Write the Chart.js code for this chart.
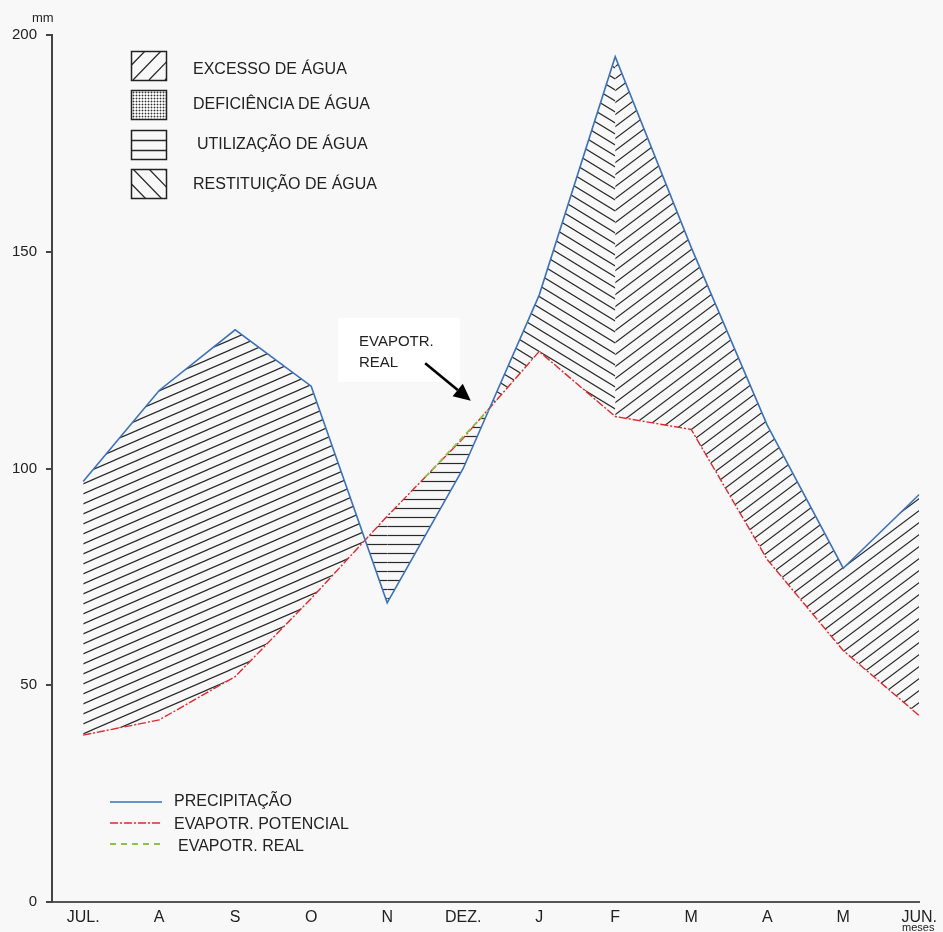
<!DOCTYPE html>
<html lang="pt">
<head>
  <meta charset="UTF-8" />
  <title>Balanço hídrico</title>
  <script src="https://cdn.jsdelivr.net/npm/chart.js"></script>
  <style>
    html, body {
      margin: 0;
      padding: 0;
      background: #f8f8f8;
      overflow: hidden;
    }
    #wrap {
      position: relative;
      width: 943px;
      height: 932px;
      font-family: 'Liberation Sans', Arial, sans-serif;
      color: #222;
    }
    #wrap canvas {
      position: absolute;
      left: 0;
      top: 0;
    }
    .lbl {
      position: absolute;
      font-size: 16px;
      line-height: 1;
      white-space: nowrap;
    }
    .note {
      position: absolute;
      left: 338px;
      top: 318px;
      width: 122px;
      height: 64px;
    }
    .note .lbl {
      font-size: 15px;
    }
  </style>
</head>
<body>
  <div id="wrap">
    <canvas id="chart" width="943" height="932"></canvas>

    <div class="lbl" style="left:32px;top:11px;font-size:13px;">mm</div>

    <div class="lbl" style="left:193px;top:61px;">EXCESSO DE ÁGUA</div>
    <div class="lbl" style="left:193px;top:96px;">DEFICIÊNCIA DE ÁGUA</div>
    <div class="lbl" style="left:197px;top:136px;">UTILIZAÇÃO DE ÁGUA</div>
    <div class="lbl" style="left:193px;top:176px;">RESTITUIÇÃO DE ÁGUA</div>

    <div class="lbl" style="left:174px;top:793px;">PRECIPITAÇÃO</div>
    <div class="lbl" style="left:174px;top:816px;">EVAPOTR. POTENCIAL</div>
    <div class="lbl" style="left:178px;top:838px;">EVAPOTR. REAL</div>

    <div class="note">
      <div class="lbl" style="left:21px;top:15px;">EVAPOTR.</div>
      <div class="lbl" style="left:21px;top:36px;">REAL</div>
    </div>

    <div class="lbl" style="left:902px;top:922px;font-size:11px;">meses</div>
  </div>

  <script>
    // valores (mm)
    const months = ["JUL.", "A", "S", "O", "N", "DEZ.", "J", "F", "M", "A", "M", "JUN."];
    const precipitation = [97, 118, 132, 119, 69, 100, 140, 195, 151, 110, 77, 94];
    const evapPotential = [38.5, 42, 52, 70, 89, 107, 127, 112, 109, 79, 58, 43];
    const evapRealX = [4.5, 5.33];
    const evapRealY = [98, 113.5];
    const yTicks = [0, 50, 100, 150, 200];
    const arrowFrom = [4.5, 124.3];
    const arrowTo = [5.1, 115.6];

    const FONT = "'Liberation Sans', Arial, sans-serif";

    function xy(values, from, to) {
      return values.slice(from, to + 1).map((v, k) => ({ x: from + k, y: v }));
    }

    // hachuras
    function hatch(w, h, kind) {
      const c = document.createElement("canvas");
      c.width = w;
      c.height = h;
      const g = c.getContext("2d");
      g.strokeStyle = "#2a2a2a";
      g.lineWidth = 1.2;
      g.beginPath();
      if (kind === "h") {
        g.moveTo(0, Math.floor(h / 2) + 0.5);
        g.lineTo(w, Math.floor(h / 2) + 0.5);
      } else {
        for (let k = -1; k <= 1; k++) {
          if (kind === "up") {
            g.moveTo(-w, 2 * h + k * h);
            g.lineTo(2 * w, -h + k * h);
          } else {
            g.moveTo(-w, -h + k * h);
            g.lineTo(2 * w, 2 * h + k * h);
          }
        }
      }
      g.stroke();
      return g.createPattern(c, "repeat");
    }

    const patShallow = hatch(23, 10, "up");
    const patDown = hatch(18, 11, "down");
    const patUp = hatch(16, 12, "up");
    const patHoriz = hatch(10, 9, "h");

    const fillBase = {
      borderWidth: 0,
      pointRadius: 0,
      order: 10
    };

    const extras = {
      id: "extras",
      afterDraw(chart) {
        const ctx = chart.ctx;
        const sx = chart.scales.x, sy = chart.scales.y;
        ctx.save();

        // legenda de hachuras
        const boxes = ["up", "dots", "h", "down"];
        const tops = [51, 90, 130, 169];
        boxes.forEach((kind, i) => {
          const x0 = 131, y0 = tops[i], w = 35, h = 29;
          ctx.save();
          ctx.beginPath();
          ctx.rect(x0, y0, w, h);
          ctx.clip();
          ctx.strokeStyle = "#2a2a2a";
          ctx.lineWidth = 1.3;
          ctx.beginPath();
          if (kind === "up") {
            for (let t = -30; t < 60; t += 16) {
              ctx.moveTo(x0 + t, y0 + h);
              ctx.lineTo(x0 + t + 30, y0 - 2);
            }
          } else if (kind === "down") {
            for (let t = -30; t < 60; t += 16) {
              ctx.moveTo(x0 + t, y0);
              ctx.lineTo(x0 + t + 30, y0 + h + 2);
            }
          } else if (kind === "h") {
            ctx.moveTo(x0, y0 + 10.5);
            ctx.lineTo(x0 + w, y0 + 10.5);
            ctx.moveTo(x0, y0 + 20.5);
            ctx.lineTo(x0 + w, y0 + 20.5);
          } else {
            ctx.lineWidth = 0.6;
            ctx.strokeStyle = "#888";
            for (let t = 2; t < w; t += 3) {
              ctx.moveTo(x0 + t + 0.5, y0);
              ctx.lineTo(x0 + t + 0.5, y0 + h);
            }
            for (let t = 2; t < h; t += 3) {
              ctx.moveTo(x0, y0 + t + 0.5);
              ctx.lineTo(x0 + w, y0 + t + 0.5);
            }
          }
          ctx.stroke();
          if (kind === "dots") {
            ctx.fillStyle = "#333";
            for (let a = 2; a < w; a += 3) {
              for (let b = 2; b < h; b += 3) {
                ctx.fillRect(x0 + a, y0 + b, 1, 1);
              }
            }
          }
          ctx.restore();
          ctx.strokeStyle = "#222";
          ctx.lineWidth = 1.5;
          ctx.strokeRect(x0 + 0.5, y0 + 0.5, w, h);
        });

        // legenda das linhas
        const lines = [
          { y: 802, color: "#3a72c0", dash: [], width: 1.6 },
          { y: 823, color: "#e8262a", dash: [8, 2, 2, 2], width: 1.4 },
          { y: 844, color: "#8cc63f", dash: [6, 5], width: 1.8 }
        ];
        lines.forEach(l => {
          ctx.beginPath();
          ctx.setLineDash(l.dash);
          ctx.strokeStyle = l.color;
          ctx.lineWidth = l.width;
          ctx.moveTo(110, l.y);
          ctx.lineTo(162, l.y);
          ctx.stroke();
        });
        ctx.setLineDash([]);

        // caixa branca da anotação
        ctx.fillStyle = "#fff";
        ctx.fillRect(338, 318, 122, 64);

        // seta da anotação
        const ax0 = sx.getPixelForValue(arrowFrom[0]), ay0 = sy.getPixelForValue(arrowFrom[1]);
        const ax1 = sx.getPixelForValue(arrowTo[0]), ay1 = sy.getPixelForValue(arrowTo[1]);
        const ang = Math.atan2(ay1 - ay0, ax1 - ax0);
        const hl = 17, hw = 8;
        const bx = ax1 - hl * Math.cos(ang), by = ay1 - hl * Math.sin(ang);
        ctx.strokeStyle = "#000";
        ctx.lineWidth = 2.6;
        ctx.beginPath();
        ctx.moveTo(ax0, ay0);
        ctx.lineTo(bx, by);
        ctx.stroke();
        ctx.fillStyle = "#000";
        ctx.beginPath();
        ctx.moveTo(ax1, ay1);
        ctx.lineTo(bx + hw * Math.sin(ang), by - hw * Math.cos(ang));
        ctx.lineTo(bx - hw * Math.sin(ang), by + hw * Math.cos(ang));
        ctx.closePath();
        ctx.fill();

        ctx.restore();
      }
    };

    new Chart(document.getElementById("chart"), {
      type: "line",
      data: {
        datasets: [
          {
            label: "EVAPOTR. POTENCIAL",
            data: xy(evapPotential, 0, 11),
            borderColor: "#e8262a",
            borderWidth: 1.4,
            borderDash: [8, 2, 2, 2],
            pointRadius: 0,
            fill: false,
            order: 3
          },
          {
            label: "PRECIPITAÇÃO",
            data: xy(precipitation, 0, 11),
            borderColor: "#3a72c0",
            borderWidth: 1.6,
            pointRadius: 0,
            fill: false,
            order: 2
          },
          {
            label: "EVAPOTR. REAL",
            data: evapRealX.map((x, i) => ({ x: x, y: evapRealY[i] })),
            borderColor: "#8cc63f",
            borderWidth: 1.8,
            borderDash: [6, 4],
            pointRadius: 0,
            fill: false,
            order: 1
          },
          Object.assign({
            data: xy(precipitation, 0, 4),
            fill: { target: 0, above: patShallow, below: patHoriz }
          }, fillBase),
          Object.assign({
            data: xy(precipitation, 4, 7),
            fill: { target: 0, above: patDown, below: patHoriz }
          }, fillBase),
          Object.assign({
            data: xy(precipitation, 7, 11),
            fill: { target: 0, above: patUp, below: patHoriz }
          }, fillBase)
        ]
      },
      options: {
        responsive: false,
        animation: false,
        layout: { padding: { top: 35, right: 21, left: 0, bottom: 0 } },
        plugins: {
          legend: { display: false },
          tooltip: { enabled: false }
        },
        elements: { line: { tension: 0 } },
        scales: {
          x: {
            type: "linear",
            min: -0.41,
            max: 11,
            afterBuildTicks: s => { s.ticks = months.map((m, i) => ({ value: i })); },
            afterFit: s => { s.height = 30; },
            grid: { display: false, drawTicks: false },
            border: { display: true, color: "#555", width: 2 },
            ticks: {
              callback: v => months[v],
              autoSkip: false,
              maxRotation: 0,
              padding: 6,
              color: "#222",
              font: { family: FONT, size: 16 }
            }
          },
          y: {
            min: 0,
            max: 200,
            afterBuildTicks: s => { s.ticks = yTicks.map(v => ({ value: v })); },
            afterFit: s => { s.width = 52; },
            grid: { drawOnChartArea: false, drawTicks: true, tickLength: 6, color: "#444", lineWidth: 2 },
            border: { color: "#444", width: 2 },
            ticks: {
              padding: 9,
              color: "#222",
              font: { family: FONT, size: 15 }
            }
          }
        }
      },
      plugins: [extras]
    });
  </script>
</body>
</html>
